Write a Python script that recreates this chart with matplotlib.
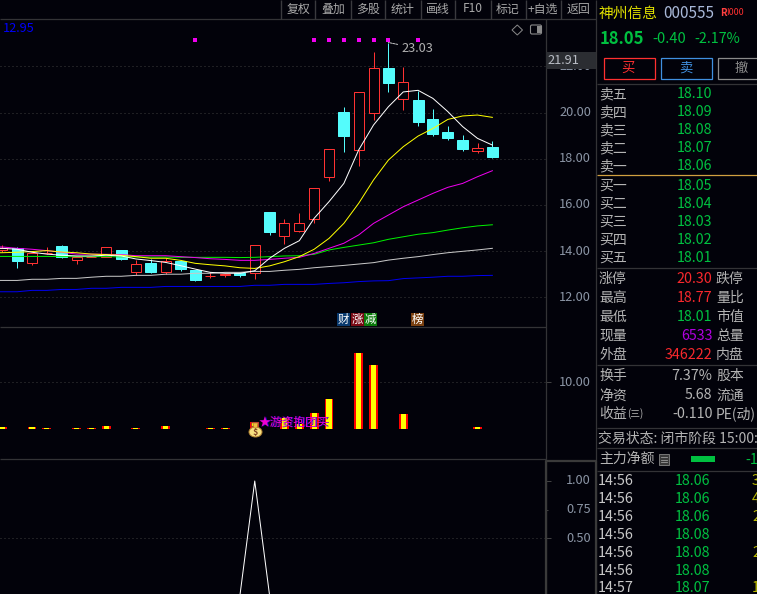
import matplotlib
matplotlib.use('Agg')
import matplotlib.pyplot as plt
from matplotlib.patches import Rectangle, Ellipse, Polygon, FancyBboxPatch
import numpy as np

plt.rcParams['font.family'] = ['Noto Sans CJK SC', 'DejaVu Sans']

W, H = 757, 594
BG = '#02020a'
UP = '#ff3232'
DOWN = '#54fcfc'
GRID = '#3c3c3c'
FRAME = '#333336'
TICK = '#8b95a5'
GREEN = '#00c040'
RED = '#f8282c'
LABEL = '#b4b4b4'
THIN = 0.72   # one pixel

# daily candles
opens  = [14.05,14.12,13.50,13.90,14.22,13.63,13.73,13.73,14.05,13.11,13.48,13.11,13.56,13.18,12.91,12.97,13.04,
          13.07,15.69,14.67,14.88,15.40,17.22,20.02,18.39,19.99,21.91,20.60,20.54,19.72,19.16,18.81,18.35,18.51]
closes = [14.12,13.59,13.90,13.93,13.76,13.76,13.76,14.16,13.66,13.43,13.09,13.57,13.23,12.75,12.92,13.01,12.97,
          14.25,14.83,15.20,15.20,16.72,18.40,18.98,20.87,21.91,21.29,21.31,19.59,19.07,18.90,18.43,18.46,18.09]
highs  = [14.27,14.18,13.90,14.18,14.26,13.76,13.76,14.16,14.05,13.60,13.66,13.69,13.56,13.18,13.11,13.01,13.04,
          14.25,15.69,15.39,15.65,16.72,18.40,20.24,20.87,22.62,23.03,21.97,20.93,20.15,19.42,19.03,18.68,18.77]
lows   = [13.95,13.28,13.40,13.86,13.71,13.44,13.73,13.73,13.61,12.97,13.05,13.00,13.15,12.71,12.85,12.89,12.89,
          12.81,14.70,14.31,14.83,15.23,17.03,18.29,17.70,19.68,20.89,20.11,19.42,18.98,18.81,18.35,18.26,18.01]

# moving averages
ma_white   = [14.12,14.08,13.95,13.87,13.82,13.79,13.79,13.82,13.79,13.66,13.59,13.51,13.37,13.22,13.08,13.04,13.04,
              13.15,13.69,14.12,14.45,15.42,16.14,16.93,18.38,19.46,20.25,20.89,20.96,20.61,20.04,19.39,18.88,18.59]
ma_yellow  = [13.93,13.95,13.98,14.02,13.96,13.93,13.87,13.85,13.82,13.76,13.69,13.69,13.60,13.47,13.41,13.36,13.28,
              13.25,13.36,13.54,13.76,14.08,14.55,15.20,16.07,17.08,17.94,18.52,18.98,19.31,19.70,19.85,19.89,19.79]
ma_magenta = [14.18,14.12,14.08,14.02,13.95,13.87,13.87,13.86,13.85,13.80,13.80,13.80,13.76,13.72,13.67,13.64,13.60,
              13.60,13.64,13.69,13.73,13.90,14.12,14.34,14.70,15.20,15.56,15.92,16.21,16.50,16.76,16.93,17.22,17.48]
ma_green   = [13.77,13.77,13.77,13.77,13.76,13.76,13.76,13.76,13.75,13.75,13.74,13.74,13.73,13.73,13.73,13.73,13.72,
              13.73,13.76,13.79,13.80,13.86,14.05,14.16,14.26,14.36,14.51,14.62,14.73,14.80,14.91,15.01,15.09,15.14]
ma_gray    = [12.73,12.73,12.78,12.78,12.82,12.82,12.87,12.91,12.91,12.95,12.95,13.00,13.00,13.04,13.04,13.08,13.08,
              13.12,13.12,13.17,13.21,13.28,13.33,13.38,13.44,13.50,13.61,13.69,13.76,13.85,13.93,13.99,14.05,14.12]
ma_blue    = [12.24,12.24,12.30,12.30,12.34,12.34,12.39,12.39,12.43,12.43,12.43,12.47,12.47,12.47,12.47,12.47,12.47,
              12.52,12.52,12.56,12.56,12.56,12.60,12.63,12.68,12.71,12.72,12.81,12.84,12.87,12.91,12.91,12.94,12.95]

signal_days = [13, 21, 22, 23, 24, 25, 26, 28]
signal_price = 23.12

# volume pane
vol_days   = [0, 2, 3, 5, 6, 7, 9, 11, 14, 15, 17, 19, 20, 21, 22, 24, 25, 27, 32]
vol_values = [0.43,0.43,0.21,0.21,0.21,0.64,0.21,0.64,0.21,0.21,1.5,2.36,1.07,3.43,6.42,16.27,13.7,3.21,0.43]

# lower indicator
flag_days   = list(range(34))
flag_values = [0]*17 + [1] + [0]*16

price_ticks = [22, 20, 18, 16, 14, 12]
lower_ticks = [1.0, 0.75, 0.5]

toolbar = ['复权', '叠加', '多股', '统计', '画线', 'F10', '标记', '+自选', '返回']
toolbar_x = [299, 333, 368, 402.7, 438, 472.7, 508, 543, 578]
toolbar_sep = [280.7, 315.3, 350.7, 385.3, 420.7, 455.3, 490.7, 525.7, 560.7]

ask_labels = ['卖五', '卖四', '卖三', '卖二', '卖一']
ask_prices = ['18.10', '18.09', '18.08', '18.07', '18.06']
bid_labels = ['买一', '买二', '买三', '买四', '买五']
bid_prices = ['18.05', '18.04', '18.03', '18.02', '18.01']

stat_left = ['涨停', '最高', '最低', '现量', '外盘', '换手', '净资', '收益']
stat_vals = ['20.30', '18.77', '18.01', '6533', '346222', '7.37%', '5.68', '-0.110']
stat_cols = [RED, RED, GREEN, '#b000e0', RED, LABEL, LABEL, LABEL]
stat_right = ['跌停', '量比', '市值', '总量', '内盘', '股本', '流通', 'PE(动)']
stat_y = [278.7, 298, 317.3, 335.7, 355, 376, 395.3, 414]

tick_times = ['14:56', '14:56', '14:56', '14:56', '14:56', '14:56', '14:57']
tick_prices = ['18.06', '18.06', '18.06', '18.08', '18.08', '18.08', '18.07']
tick_vols = ['3', '4', '2', '', '2', '', '1']
tick_y = [481.3, 499.3, 517.3, 535.3, 553.3, 571.3, 588.3]


def pane(fig, x0, y0, x1, y1):
    # pixel box, measured from the top left of the picture
    ax = fig.add_axes([x0/W, 1 - y1/H, (x1-x0)/W, (y1-y0)/H])
    ax.set_facecolor('none')
    for s in ax.spines.values():
        s.set_visible(False)
    # candle i sits at 2.3 + 14.85*i pixels
    ax.set_xlim(-2.3/14.85, (x1-2.3)/14.85)
    ax.set_xticks([])
    ax.yaxis.tick_right()
    ax.grid(axis='y', color=GRID, lw=0.72, ls=(0, (1, 3)))
    ax.set_axisbelow(True)
    return ax


def set_tick_labels(ax, ticks, length):
    ax.set_yticks(ticks)
    ax.set_yticklabels(['%.2f' % t for t in ticks], color=TICK, fontsize=9.2, ha='right', va='center')
    ax.tick_params(axis='y', length=length, width=0.7, color='#444444', pad=32.8 - length)


def draw_candles(ax):
    for i in range(len(opens)):
        o, c, hi, lo = opens[i], closes[i], highs[i], lows[i]
        rising = c >= o
        col = UP if rising else DOWN
        bot, top = min(o, c), max(o, c)
        ax.plot([i, i], [top, hi], color=col, lw=THIN, zorder=3, solid_capstyle='butt')
        ax.plot([i, i], [lo, bot], color=col, lw=THIN, zorder=3, solid_capstyle='butt')
        if rising:
            ax.add_patch(Rectangle((i-0.34, bot), 0.68, max(top-bot, 0.03), fc=BG, ec=col, lw=THIN, zorder=3))
        else:
            ax.add_patch(Rectangle((i-0.37, bot), 0.74, max(top-bot, 0.03), fc=col, ec=col, lw=THIN, zorder=3))


fig = plt.figure(figsize=(W/100, H/100), dpi=100, facecolor=BG)

# price pane
ax1 = pane(fig, 0, 19.5, 545.5, 327.5)
ax1.set_ylim(20 - 215/23.1, 20 + 93/23.1)
draw_candles(ax1)
days = np.arange(len(opens))
for ma, col in [(ma_blue, '#0000f0'), (ma_gray, '#c8c8c8'), (ma_green, '#00f000'),
                (ma_magenta, '#f000f0'), (ma_yellow, '#ffff00'), (ma_white, '#ffffff')]:
    # first point is carried to the left edge of the pane
    ax1.plot(np.r_[-1, days], [ma[0]] + ma, color=col, lw=THIN, zorder=4)
ax1.scatter(signal_days, [signal_price]*len(signal_days), s=6, marker='s', color='#f000f0', lw=0, zorder=5)
ax1.annotate('23.03', xy=(26, 23.03), xytext=(26.9, 22.77), color='#b0b0b0', fontsize=9.2,
             va='center', ha='left', zorder=6,
             arrowprops=dict(arrowstyle='-', color='#c8c8c8', lw=0.7, ls=(0, (2, 1)), shrinkA=1, shrinkB=0))
set_tick_labels(ax1, price_ticks, 0)

# volume pane
ax2 = pane(fig, 0, 327.5, 545.5, 459.5)
ax2.set_ylim(-30.5/4.67, 101.5/4.67)
ax2.bar(vol_days, vol_values, width=0.6, color='#ff0000', zorder=3)
ax2.bar(vol_days, vol_values, width=0.34, color='#ffff00', zorder=3.1)
set_tick_labels(ax2, [10], 3.8)

# lower pane
ax3 = pane(fig, 0, 459.5, 545.5, 594)
ax3.set_ylim(1 - 113/114.6, 1 + 21.5/114.6)
ax3.plot(flag_days, flag_values, color='#ffffff', lw=THIN, zorder=3)
set_tick_labels(ax3, lower_ticks, 3.8)
ax3.grid(False)
ax3.axhline(0.5, color=GRID, lw=0.72, ls=(0, (1, 3)), zorder=1)
ax3.yaxis.get_major_ticks()[1].tick2line.set_markersize(1.5)

# everything else is laid out in picture pixels
ov = fig.add_axes([0, 0, 1, 1], facecolor='none')
ov.set_xlim(0, W)
ov.set_ylim(H, 0)
ov.axis('off')


def px(x, y, s, color=LABEL, size=9.6, ha='left', **kw):
    ov.text(x, y, s, color=color, fontsize=size, ha=ha, va='center', clip_on=True, **kw)


def hline(y, x0=0, x1=W, color=FRAME, lw=0.9):
    ov.plot([x0, x1], [y, y], color=color, lw=lw, solid_capstyle='butt')


def vline(x, y0=0, y1=H, color=FRAME, lw=0.9):
    ov.plot([x, x], [y0, y1], color=color, lw=lw, solid_capstyle='butt')


# frame
hline(19.3, 0, 596)
hline(327.3, 0, 546)
hline(459.3, 0, 546)
vline(545.5, 19, H)
vline(596.3)
ov.plot([546, 546, 596, 596], [H, 460.5, 460.5, H], color='#3a3a3a', lw=1.6)

# toolbar
for x in toolbar_sep:
    vline(x, 0, 19, color='#3a3a3e', lw=1.0)
for x, s in zip(toolbar_x, toolbar):
    px(x, 9, s, color='#a8a8a8', size=8.6, ha='center')

px(3, 29, '12.95', color='#0000f8', size=9.2)

# icons in the price pane
ov.add_patch(Polygon([[517.3, 25], [522.5, 30], [517.3, 35], [512, 30]], fc='none', ec='#8a8a8a', lw=0.7))
ov.add_patch(FancyBboxPatch((531, 25.5), 10, 8, boxstyle='round,pad=0.5,rounding_size=1.5', fc='none', ec='#8a8a8a', lw=0.8))
ov.add_patch(Rectangle((536.5, 26), 4, 7, fc='#8a8a8a', ec='none'))

# last price box
ov.add_patch(Rectangle((546, 52), 50, 17, fc='#2b2d32', ec='none', zorder=5))
ov.text(547, 60.3, '21.91', color='#b8bcc4', fontsize=9.2, va='center', zorder=6)

# event tags
for x, s, c in zip([343.3, 357, 370.5, 417.5], ['财', '涨', '减', '榜'], ['#0a3a6e', '#7a0a14', '#0a7a0a', '#7a4010']):
    ov.add_patch(Rectangle((x-6.5, 313), 13, 13, fc=c, ec='none'))
    px(x, 319.2, s, color='#ffffff', size=8.2, ha='center')

# money bag and its label
ov.add_patch(Rectangle((251, 422), 7, 4, fc='none', ec='#c03030', lw=0.8))
ov.add_patch(Ellipse((255.5, 432), 13, 10, fc='#f8e080', ec='#b08030', lw=0.7, zorder=7))
ov.add_patch(Polygon([[253, 423], [258, 423], [257, 428], [254, 428]], fc='#f0c040', ec='#b08030', lw=0.5, zorder=7))
px(255.5, 432, '$', color='#804020', size=6.5, ha='center', zorder=8, fontweight='bold')
px(259.7, 422.4, '★游资抱团买', color='#1010c0', size=8.5, zorder=8)
px(259, 421.7, '★游资抱团买', color='#f000d0', size=8.5, zorder=9)

# quote panel header
px(599, 14, '神州信息', color='#e0e000', size=10.6)
px(663, 14, '000555', color='#a8b8d8', size=11)
px(720, 12.5, 'R', color='#ff4040', size=7, fontweight='bold')
px(726, 12.5, 'I000', color='#ff3030', size=6.4)
px(600, 38.5, '18.05', color=GREEN, size=12, fontweight='bold')
px(652, 39, '-0.40', color=GREEN, size=10.5)
px(694, 39, '-2.17%', color=GREEN, size=10.3)

for x0, x1, tx, c, s in [(603.5, 655, 628, '#ff3030', '买'), (660.5, 712, 685.7, '#4090e0', '卖'),
                         (717.5, 769, 741.7, '#8a8a8a', '撤')]:
    ov.add_patch(Rectangle((x0, 57.5), x1-x0, 21, fc='none', ec=c, lw=0.9))
    px(tx, 67.5, s, color=c, size=9.6, ha='center')

hline(84.3, 597)
for y, a, p in zip([94, 112, 130, 148, 166], ask_labels, ask_prices):
    px(599, y, a, size=10)
    px(676.3, y, p, color=GREEN, size=10.3)
hline(175.3, 597, color='#d0a040')
for y, a, p in zip([186, 204, 222, 240, 258], bid_labels, bid_prices):
    px(599, y, a, size=10)
    px(676.3, y, p, color=GREEN, size=10.3)
hline(268.3, 597)

for y, a, v, c, b in zip(stat_y, stat_left, stat_vals, stat_cols, stat_right):
    px(599, y, a, size=10)
    px(712.5, y, v, color=c, size=10.3, ha='right')
    px(716, y, b, size=10)
px(627, 414, '(三)', size=7)
hline(365, 597)
hline(428.3, 597)
px(598, 438.3, '交易状态: 闭市阶段 15:00:', size=10)
hline(448.3, 597)
px(599, 459.3, '主力净额', size=10)
ov.add_patch(Rectangle((659, 454), 10, 11, fc='#3a3a3a', ec='#777777', lw=0.7))
for y in [457, 459.5, 462]:
    ov.plot([661, 667], [y, y], color='#9a9a9a', lw=0.6)
ov.add_patch(Rectangle((691, 456), 24, 6.3, fc=GREEN, ec='none'))
px(745, 459.5, '-1', color=GREEN, size=10.3)
hline(471.3, 597)

for y, t, p, v in zip(tick_y, tick_times, tick_prices, tick_vols):
    px(598, y, t, color='#c8c8c8', size=10.4)
    px(674.7, y, p, color=GREEN, size=10.3)
    if v:
        px(752, y, v, color='#b8b800', size=10.3)

fig.savefig('out.png', dpi=100, facecolor=BG)
